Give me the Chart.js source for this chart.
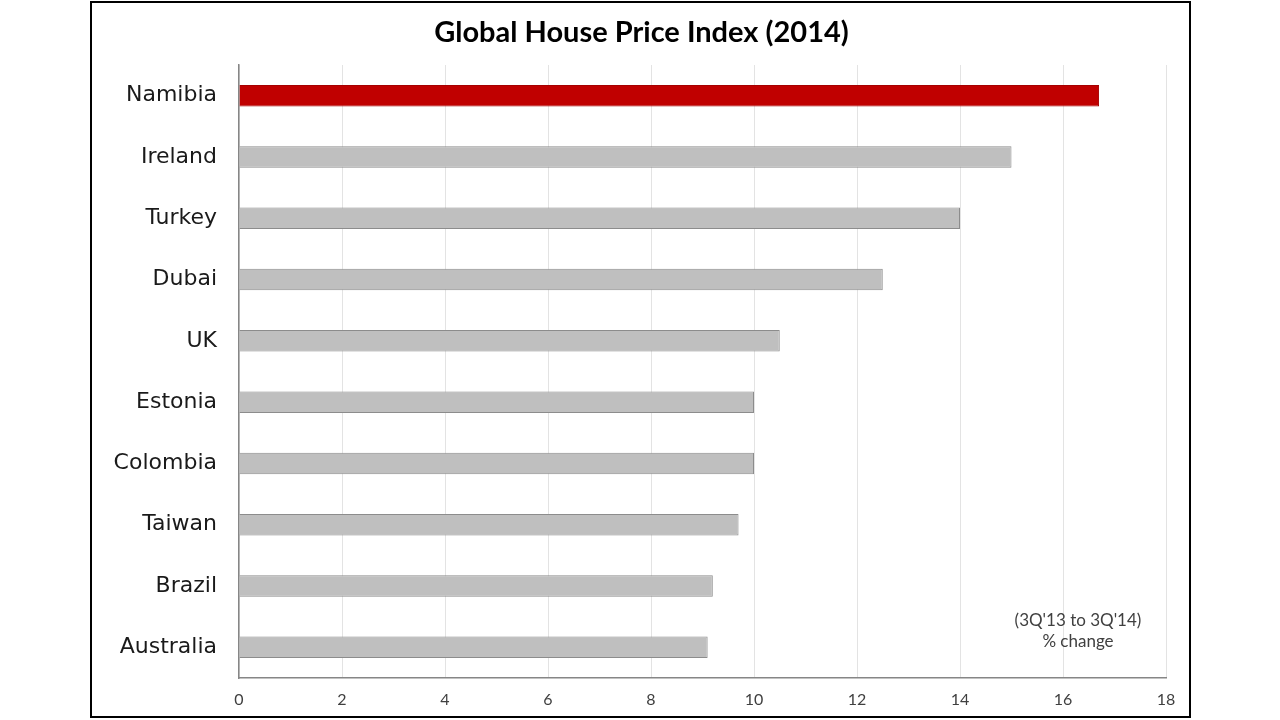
<!DOCTYPE html>
<html>
<head>
<meta charset="utf-8">
<script src="https://cdn.jsdelivr.net/npm/chart.js@4"></script>
<style>
  body { margin: 0; width: 1280px; height: 720px; background: #fff; position: relative; overflow: hidden; font-family: Lato, "Open Sans", sans-serif; }
  #frame { position: absolute; left: 90px; top: 1px; width: 1097px; height: 713px; border: 2px solid #000; }
  #wrap { position: absolute; left: 0; top: 0; width: 1097px; height: 713px; }
  #title { position: absolute; left: 90px; top: 13px; width: 1103px; text-align: center; font-family: Lato, sans-serif; font-weight: bold; font-size: 29px; line-height: 36px; color: #000; }
  #note { position: absolute; left: 995px; top: 609px; width: 166px; text-align: center; font-size: 17px; line-height: 21px; color: #404040; }
</style>
</head>
<body>
<div id="frame">
  <div id="wrap"><canvas id="chart"></canvas></div>
</div>
<div id="title">Global House Price Index (2014)</div>
<div id="note">(3Q'13 to 3Q'14)<br>% change</div>
<script>
// values
const countries = ["Namibia", "Ireland", "Turkey", "Dubai", "UK", "Estonia", "Colombia", "Taiwan", "Brazil", "Australia"];
const changes = [16.7, 15.0, 14.0, 12.5, 10.5, 10.0, 10.0, 9.7, 9.2, 9.1];
const xTicks = [0, 2, 4, 6, 8, 10, 12, 14, 16, 18];

const fills = countries.map((c, i) => i === 0 ? "#c00000" : "#bfbfbf");
const borders = countries.map((c, i) => i === 0 ? "#a50000" : "#8c8c8c");

new Chart(document.getElementById("chart"), {
  type: "bar",
  data: {
    labels: countries,
    datasets: [{
      data: changes,
      backgroundColor: fills,
      borderColor: borders,
      borderWidth: 1,
      barPercentage: 0.35,
      categoryPercentage: 1
    }]
  },
  options: {
    indexAxis: "y",
    responsive: true,
    maintainAspectRatio: false,
    animation: false,
    layout: { padding: { left: 0, right: 23, top: 62, bottom: 0 } },
    plugins: {
      legend: { display: false },
      tooltip: { enabled: false }
    },
    scales: {
      x: {
        min: 0,
        max: 18,
        afterBuildTicks: s => { s.ticks = xTicks.map(v => ({ value: v })); },
        afterFit: s => { s.height = 38; },
        grid: { color: "#e3e3e3", drawTicks: false },
        border: { color: "#868686", width: 1.5 },
        ticks: { color: "#404040", font: { family: "Lato", size: 16 }, padding: 12 }
      },
      y: {
        afterFit: s => { s.width = 147; },
        grid: { display: false, drawTicks: false },
        border: { color: "#868686", width: 1.5 },
        ticks: { color: "#1a1a1a", font: { family: "DejaVu Sans", size: 22 }, padding: 22 }
      }
    }
  }
});
</script>
</body>
</html>
